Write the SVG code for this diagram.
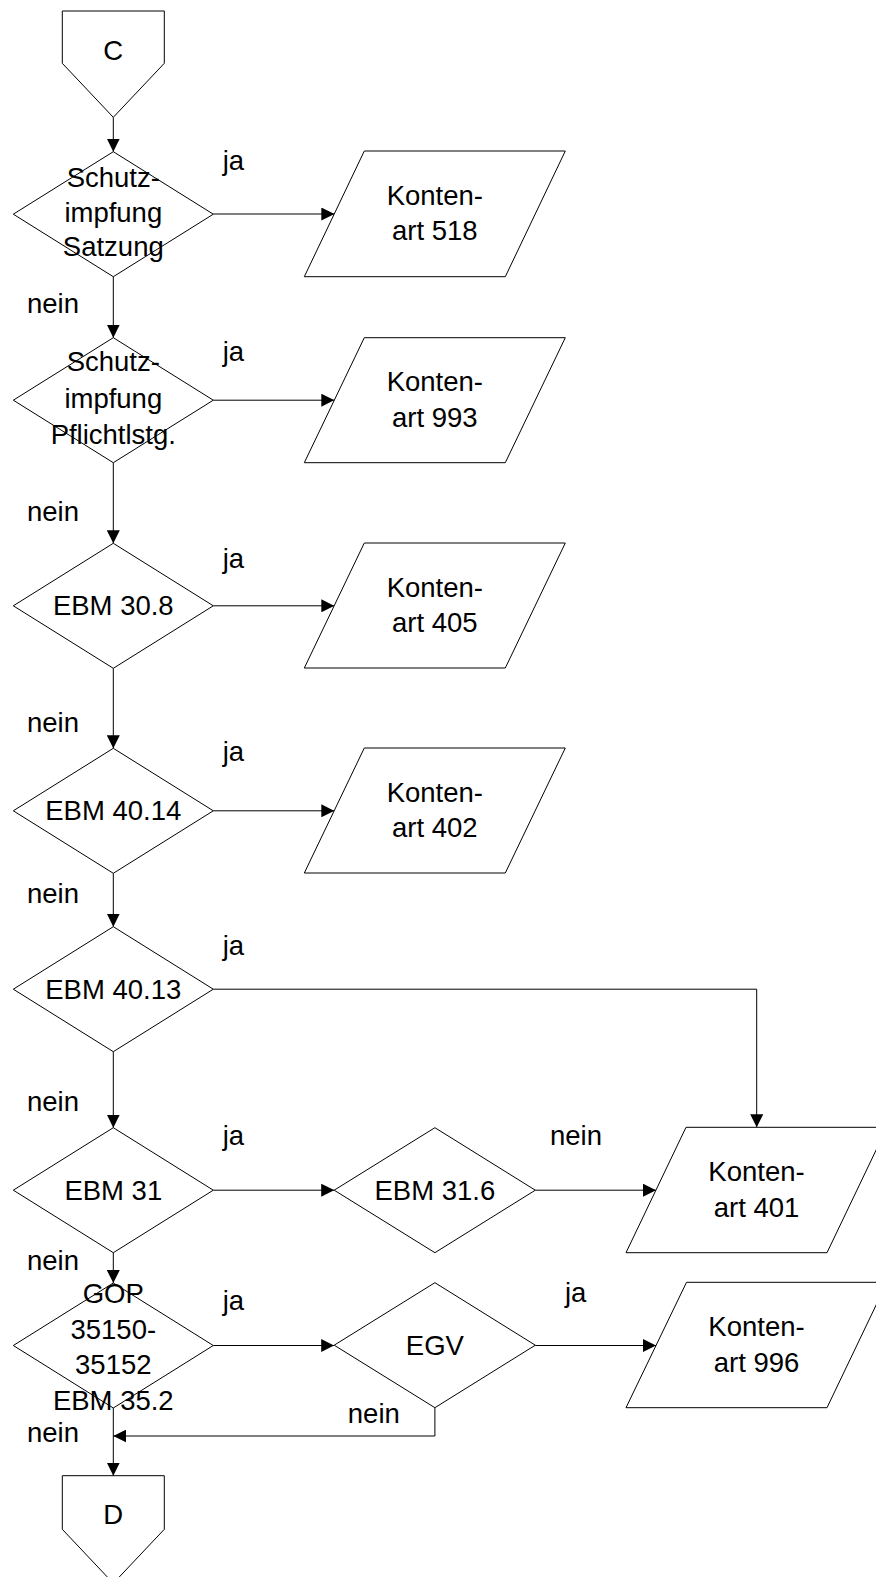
<svg xmlns="http://www.w3.org/2000/svg" width="876" height="1577" viewBox="0 0 876 1577">
<defs>
<style>
.s{fill:#fff;stroke:#000;stroke-width:1}
.c{fill:none;stroke:#000;stroke-width:1}
text{font-family:"Liberation Sans",Arial,sans-serif;font-size:27.5px;fill:#000}
.m{text-anchor:middle}
</style>
<marker id="ah" viewBox="0 0 13 13" refX="13" refY="6.5" markerWidth="13" markerHeight="13" markerUnits="userSpaceOnUse" orient="auto"><path d="M0,0 L13,6.5 L0,13 Z" fill="#000"/></marker>
</defs>
<rect width="876" height="1577" fill="#fff"/>
<g id="connectors">
<path class="c" d="M113.3,117.3 V151.7" marker-end="url(#ah)"/>
<path class="c" d="M213.3,214 H334.3" marker-end="url(#ah)"/>
<path class="c" d="M113.3,276.7 V337.7" marker-end="url(#ah)"/>
<path class="c" d="M213.3,400.2 H334.3" marker-end="url(#ah)"/>
<path class="c" d="M113.3,462.7 V543.3" marker-end="url(#ah)"/>
<path class="c" d="M213.3,605.8 H334.3" marker-end="url(#ah)"/>
<path class="c" d="M113.3,668.3 V748.3" marker-end="url(#ah)"/>
<path class="c" d="M213.3,810.8 H334.3" marker-end="url(#ah)"/>
<path class="c" d="M113.3,873.3 V926.7" marker-end="url(#ah)"/>
<path class="c" d="M213.3,989.2 H756.7 V1127.3" marker-end="url(#ah)"/>
<path class="c" d="M113.3,1051.7 V1127.7" marker-end="url(#ah)"/>
<path class="c" d="M213.3,1190.2 H334.2" marker-end="url(#ah)"/>
<path class="c" d="M535.3,1190.2 H656" marker-end="url(#ah)"/>
<path class="c" d="M113.3,1252.7 V1283" marker-end="url(#ah)"/>
<path class="c" d="M213.3,1345.5 H334.2" marker-end="url(#ah)"/>
<path class="c" d="M535.3,1345.5 H656" marker-end="url(#ah)"/>
<path class="c" d="M434.9,1408 V1436 H113.3" marker-end="url(#ah)"/>
<path class="c" d="M113.3,1408 V1475.7" marker-end="url(#ah)"/>
</g>
<g id="labels">
<text x="222.7" y="170">ja</text>
<text x="222.7" y="361">ja</text>
<text x="222.7" y="568">ja</text>
<text x="222.7" y="761">ja</text>
<text x="222.7" y="955">ja</text>
<text x="222.7" y="1145">ja</text>
<text x="222.7" y="1310">ja</text>
<text x="565" y="1302">ja</text>
<text x="27" y="313">nein</text>
<text x="27" y="521">nein</text>
<text x="27" y="732">nein</text>
<text x="27" y="903">nein</text>
<text x="27" y="1111">nein</text>
<text x="27" y="1270">nein</text>
<text x="27" y="1442">nein</text>
<text x="550" y="1145">nein</text>
<text x="347.8" y="1423">nein</text>
</g>
<g id="C">
<path class="s" d="M62.3,11 H164.3 V63.3 L113.3,117.3 L62.3,63.3 Z"/>
<text class="m" x="113.3" y="60">C</text>
</g>
<g id="d1">
<path class="s" d="M113.3,151.7 L213.3,214.2 L113.3,276.7 L13.3,214.2 Z"/>
<text class="m" x="113.3" y="186.5">Schutz-</text>
<text class="m" x="113.3" y="221.7">impfung</text>
<text class="m" x="113.3" y="256">Satzung</text>
</g>
<g id="p518">
<path class="s" d="M364.3,151 H565.3 L505.3,276.7 H304.3 Z"/>
<text class="m" x="434.8" y="205">Konten-</text>
<text class="m" x="434.8" y="240.3">art 518</text>
</g>
<g id="d2">
<path class="s" d="M113.3,337.7 L213.3,400.2 L113.3,462.7 L13.3,400.2 Z"/>
<text class="m" x="113.3" y="371">Schutz-</text>
<text class="m" x="113.3" y="407.5">impfung</text>
<text class="m" x="113.3" y="443.5">Pflichtlstg.</text>
</g>
<g id="p993">
<path class="s" d="M364.3,337.7 H565.3 L505.3,462.7 H304.3 Z"/>
<text class="m" x="434.8" y="391.2">Konten-</text>
<text class="m" x="434.8" y="426.7">art 993</text>
</g>
<g id="d3">
<path class="s" d="M113.3,543.3 L213.3,605.8 L113.3,668.3 L13.3,605.8 Z"/>
<text class="m" x="113.3" y="615">EBM 30.8</text>
</g>
<g id="p405">
<path class="s" d="M364.3,543 H565.3 L505.3,668 H304.3 Z"/>
<text class="m" x="434.8" y="596.5">Konten-</text>
<text class="m" x="434.8" y="632">art 405</text>
</g>
<g id="d4">
<path class="s" d="M113.3,748.3 L213.3,810.8 L113.3,873.3 L13.3,810.8 Z"/>
<text class="m" x="113.3" y="820">EBM 40.14</text>
</g>
<g id="p402">
<path class="s" d="M364.3,748 H565.3 L505.3,873 H304.3 Z"/>
<text class="m" x="434.8" y="801.5">Konten-</text>
<text class="m" x="434.8" y="837">art 402</text>
</g>
<g id="d5">
<path class="s" d="M113.3,926.7 L213.3,989.2 L113.3,1051.7 L13.3,989.2 Z"/>
<text class="m" x="113.3" y="998.5">EBM 40.13</text>
</g>
<g id="d6">
<path class="s" d="M113.3,1127.7 L213.3,1190.2 L113.3,1252.7 L13.3,1190.2 Z"/>
<text class="m" x="113.3" y="1199.5">EBM 31</text>
</g>
<g id="d316">
<path class="s" d="M434.9,1127.7 L535.3,1190.2 L434.9,1252.7 L334.2,1190.2 Z"/>
<text class="m" x="434.9" y="1199.5">EBM 31.6</text>
</g>
<g id="p401">
<path class="s" d="M686,1127.3 H887 L827,1252.7 H626 Z"/>
<text class="m" x="756.5" y="1181">Konten-</text>
<text class="m" x="756.5" y="1216.7">art 401</text>
</g>
<g id="gop">
<path class="s" d="M113.3,1283 L213.3,1345.5 L113.3,1408 L13.3,1345.5 Z"/>
<text class="m" x="113.3" y="1303">GOP</text>
<text class="m" x="113.3" y="1338.5">35150-</text>
<text class="m" x="113.3" y="1374">35152</text>
<text class="m" x="113.3" y="1409.5">EBM 35.2</text>
</g>
<g id="egv">
<path class="s" d="M434.9,1282.7 L535.3,1345.2 L434.9,1407.7 L334.2,1345.2 Z"/>
<text class="m" x="434.9" y="1354.5">EGV</text>
</g>
<g id="p996">
<path class="s" d="M686.5,1282.3 H887 L827,1407.7 H626 Z"/>
<text class="m" x="756.5" y="1336">Konten-</text>
<text class="m" x="756.5" y="1371.5">art 996</text>
</g>
<g id="D">
<path class="s" d="M62.3,1475.7 H164.3 V1529.3 L113.3,1583.3 L62.3,1529.3 Z"/>
<text class="m" x="113.3" y="1524">D</text>
</g>
</svg>
